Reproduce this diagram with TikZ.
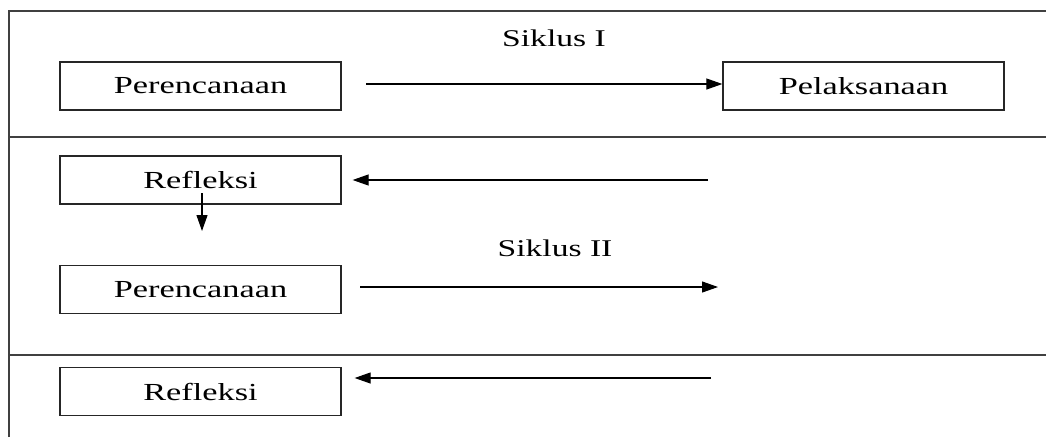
\documentclass[tikz,border=0pt]{standalone}
\usepackage{fontspec}
\setmainfont{Liberation Serif}[FakeStretch=1.4]
\usetikzlibrary{arrows.meta}
\tikzset{
  stepbox/.style={draw=black!85, line width=1.3pt, minimum width=281pt, minimum height=48pt, inner sep=0pt, font=\fontsize{24.5}{27}\selectfont},
  rule/.style={draw=black!75, line width=1.4pt},
  arr/.style={draw=black, line width=1.1pt, -{Triangle[length=16pt,width=11pt]}},
  lbl/.style={font=\fontsize{24}{27}\selectfont, inner sep=0pt}
}
\begin{document}
\begin{tikzpicture}[x=1pt,y=-1pt]
\useasboundingbox (0,0) rectangle (1046,437);
% frame
\coordinate (tl) at (9,11);
\coordinate (tr) at (1046,11);
\coordinate (bl) at (9,437);
\coordinate (m1l) at (9,137);
\coordinate (m1r) at (1046,137);
\coordinate (m2l) at (9,355);
\coordinate (m2r) at (1046,355);
\draw[rule] (bl) -- (tl) -- (tr);
\draw[rule] (m1l) -- (m1r);
\draw[rule] (m2l) -- (m2r);
% labels
\node[lbl] (s1) at (554,38) {Siklus I};
\node[lbl] (s2) at (555,248) {Siklus II};
% boxes
\node[stepbox] (p1) at (200.5,86) {Perencanaan};
\node[stepbox] (pl) at (863.5,86) {Pelaksanaan};
\node[stepbox] (r1) at (200.5,180) {Refleksi};
\node[stepbox] (p2) at (200.5,289.5) {Perencanaan};
\node[stepbox] (r2) at (200.5,391.5) {Refleksi};
% arrows
\coordinate (a1) at (366,84);
\draw[arr] (a1) -- (a1 -| pl.west);
\coordinate (a2) at (708,180);
\draw[arr, shorten >=11pt] (a2) -- (a2 -| r1.east);
\coordinate (a3s) at (202,193);
\coordinate (a3e) at (202,231);
\draw[arr] (a3s) -- (a3e);
\coordinate (a4s) at (360,287);
\coordinate (a4e) at (718,287);
\draw[arr] (a4s) -- (a4e);
\coordinate (a5) at (711,378);
\draw[arr, shorten >=13pt] (a5) -- (a5 -| r2.east);
\end{tikzpicture}
\end{document}
